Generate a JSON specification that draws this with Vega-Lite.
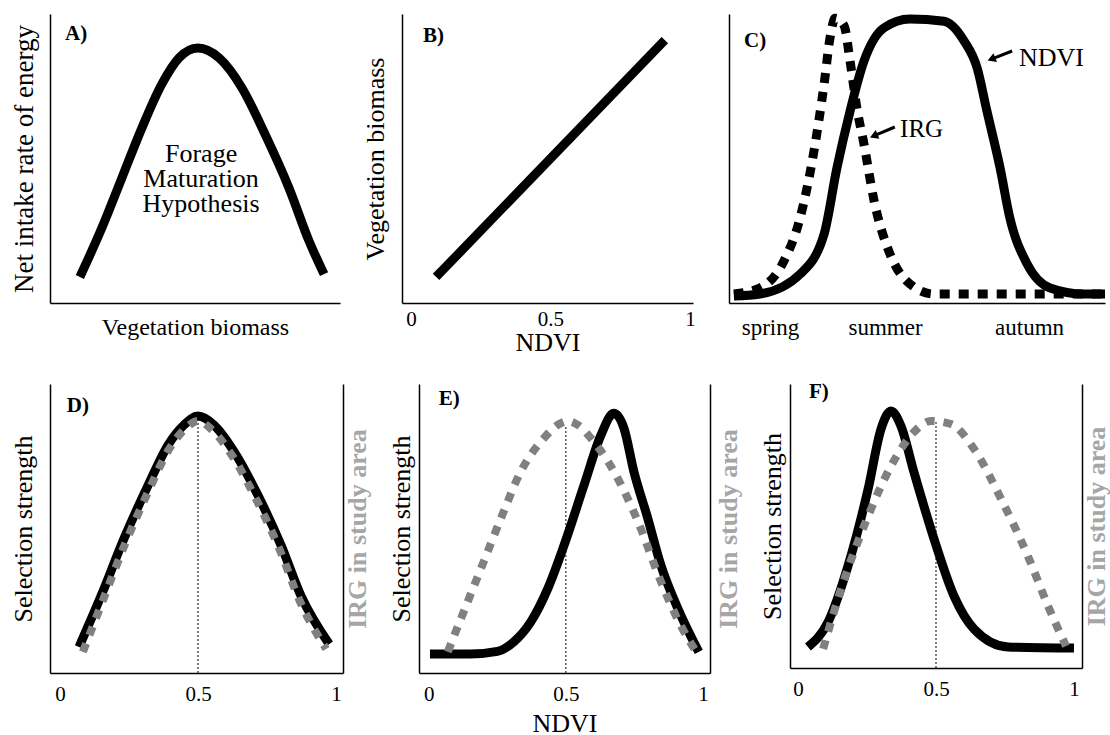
{
  "$schema": "https://vega.github.io/schema/vega-lite/v6.json",
  "padding": {"left": 9, "top": 0, "right": 0, "bottom": 0},
  "background": "white",
  "config": {
    "font": "Liberation Serif, Times New Roman, Times, DejaVu Serif, serif",
    "text": {"font": "Liberation Serif, Times New Roman, Times, DejaVu Serif, serif"},
    "view": {"stroke": null},
    "axis": {"grid": false, "ticks": false, "tickSize": 0, "domainColor": "#000", "domainWidth": 1.5, "labelFont": "Liberation Serif, Times New Roman, Times, DejaVu Serif, serif", "titleFont": "Liberation Serif, Times New Roman, Times, DejaVu Serif, serif", "labelColor": "#000", "titleColor": "#000", "titleFontWeight": "normal", "labelFontSize": 21, "titleFontSize": 26, "minExtent": 0, "labelFlush": false, "labelOverlap": false, "labelAngle": 0, "format": "~g"}
  },
  "datasets": {
    "A": [{"x":0.103,"y":0.09},{"x":0.179,"y":0.26},{"x":0.248,"y":0.433},{"x":0.317,"y":0.606},{"x":0.386,"y":0.758},{"x":0.445,"y":0.848},{"x":0.51,"y":0.882},{"x":0.583,"y":0.848},{"x":0.662,"y":0.744},{"x":0.741,"y":0.585},{"x":0.824,"y":0.398},{"x":0.893,"y":0.215},{"x":0.945,"y":0.10}],
    "B": [{"x":0.09,"y":0.09},{"x":0.91,"y":0.91}],
    "C_ndvi": [{"x":0.013,"y":0.024},{"x":0.082,"y":0.031},{"x":0.189,"y":0.1},{"x":0.253,"y":0.239},{"x":0.287,"y":0.467},{"x":0.322,"y":0.664},{"x":0.359,"y":0.837},{"x":0.412,"y":0.952},{"x":0.481,"y":0.983},{"x":0.572,"y":0.975},{"x":0.625,"y":0.907},{"x":0.66,"y":0.813},{"x":0.686,"y":0.664},{"x":0.721,"y":0.467},{"x":0.747,"y":0.294},{"x":0.793,"y":0.135},{"x":0.854,"y":0.052},{"x":0.944,"y":0.031},{"x":1.0,"y":0.031}],
    "C_irg": [{"x":0.013,"y":0.031},{"x":0.082,"y":0.052},{"x":0.146,"y":0.145},{"x":0.189,"y":0.294},{"x":0.226,"y":0.526},{"x":0.253,"y":0.758},{"x":0.269,"y":0.92},{"x":0.282,"y":0.985},{"x":0.306,"y":0.96},{"x":0.322,"y":0.837},{"x":0.34,"y":0.675},{"x":0.359,"y":0.55},{"x":0.386,"y":0.353},{"x":0.428,"y":0.17},{"x":0.481,"y":0.066},{"x":0.545,"y":0.031},{"x":1.0,"y":0.031}],
    "D_sel": [{"x":0.069,"y":0.09},{"x":0.149,"y":0.267},{"x":0.232,"y":0.465},{"x":0.319,"y":0.649},{"x":0.391,"y":0.788},{"x":0.449,"y":0.858},{"x":0.5,"y":0.889},{"x":0.558,"y":0.858},{"x":0.63,"y":0.767},{"x":0.717,"y":0.615},{"x":0.801,"y":0.441},{"x":0.873,"y":0.267},{"x":0.975,"y":0.1}],
    "D_irg": [{"x":0.083,"y":0.073},{"x":0.155,"y":0.25},{"x":0.236,"y":0.447},{"x":0.322,"y":0.632},{"x":0.393,"y":0.771},{"x":0.45,"y":0.842},{"x":0.5,"y":0.872},{"x":0.55,"y":0.842},{"x":0.625,"y":0.75},{"x":0.712,"y":0.598},{"x":0.797,"y":0.424},{"x":0.868,"y":0.25},{"x":0.964,"y":0.083}],
    "E_sel": [{"x":0.004,"y":0.066},{"x":0.15,"y":0.066},{"x":0.25,"y":0.075},{"x":0.31,"y":0.108},{"x":0.372,"y":0.177},{"x":0.434,"y":0.292},{"x":0.493,"y":0.441},{"x":0.566,"y":0.649},{"x":0.628,"y":0.823},{"x":0.675,"y":0.899},{"x":0.712,"y":0.847},{"x":0.748,"y":0.698},{"x":0.799,"y":0.535},{"x":0.847,"y":0.372},{"x":0.909,"y":0.222},{"x":0.985,"y":0.073}],
    "E_irg": [{"x":0.069,"y":0.073},{"x":0.117,"y":0.188},{"x":0.19,"y":0.361},{"x":0.263,"y":0.535},{"x":0.336,"y":0.698},{"x":0.42,"y":0.813},{"x":0.482,"y":0.865},{"x":0.507,"y":0.872},{"x":0.544,"y":0.858},{"x":0.591,"y":0.813},{"x":0.675,"y":0.698},{"x":0.763,"y":0.524},{"x":0.847,"y":0.316},{"x":0.92,"y":0.163},{"x":0.974,"y":0.076}],
    "F_sel": [{"x":0.036,"y":0.074},{"x":0.109,"y":0.162},{"x":0.181,"y":0.359},{"x":0.254,"y":0.63},{"x":0.301,"y":0.842},{"x":0.337,"y":0.905},{"x":0.373,"y":0.852},{"x":0.42,"y":0.69},{"x":0.493,"y":0.454},{"x":0.565,"y":0.254},{"x":0.638,"y":0.137},{"x":0.761,"y":0.074},{"x":1.0,"y":0.07}],
    "F_irg": [{"x":0.091,"y":0.067},{"x":0.156,"y":0.278},{"x":0.254,"y":0.535},{"x":0.337,"y":0.711},{"x":0.42,"y":0.831},{"x":0.482,"y":0.87},{"x":0.554,"y":0.859},{"x":0.638,"y":0.771},{"x":0.736,"y":0.595},{"x":0.833,"y":0.394},{"x":0.906,"y":0.218},{"x":0.971,"y":0.077}]
  },
  "vconcat": [
    {
      "hconcat": [
        {
          "width": 290, "height": 289,
          "layer": [
            {"data": {"name": "A"},
             "mark": {"type": "line", "color": "#000", "strokeWidth": 9, "interpolate": "monotone"},
             "encoding": {
               "x": {"field": "x", "type": "quantitative", "scale": {"domain": [0, 1], "nice": false, "zero": false}, "axis": {"labels": false, "title": "Vegetation biomass", "titleFontSize": 24, "titlePadding": 12}},
               "y": {"field": "y", "type": "quantitative", "scale": {"domain": [0, 1], "nice": false}, "axis": {"labels": false, "title": "Net intake rate of energy", "titleFontSize": 27, "titlePadding": 12}}
             }},
            {"data": {"values": [{}]},
             "mark": {"type": "text", "align": "left", "baseline": "middle", "fontWeight": "bold", "fontSize": 21},
             "encoding": {"x": {"datum": 0.052, "type": "quantitative"}, "y": {"datum": 0.93, "type": "quantitative"}, "text": {"value": "A)"}}},
            {"data": {"values": [{}]},
             "mark": {"type": "text", "align": "center", "baseline": "middle", "fontSize": 26, "lineHeight": 25},
             "encoding": {"x": {"datum": 0.521, "type": "quantitative"}, "y": {"datum": 0.516, "type": "quantitative"}, "text": {"value": ["Forage", "Maturation", "Hypothesis"]}}}
          ]
        },
        {
          "width": 291, "height": 289,
          "layer": [
            {"data": {"name": "B"},
             "mark": {"type": "line", "color": "#000", "strokeWidth": 9},
             "encoding": {
               "x": {"field": "x", "type": "quantitative", "scale": {"domain": [-0.032, 1.011], "nice": false, "zero": false}, "axis": {"values": [0, 0.5, 1], "labelPadding": 5, "title": "NDVI", "titlePadding": 0}},
               "y": {"field": "y", "type": "quantitative", "scale": {"domain": [0, 1], "nice": false}, "axis": {"labels": false, "title": "Vegetation biomass", "titlePadding": 14}}
             }},
            {"data": {"values": [{}]},
             "mark": {"type": "text", "align": "left", "baseline": "middle", "fontWeight": "bold", "fontSize": 21},
             "encoding": {"x": {"datum": 0.043, "type": "quantitative"}, "y": {"datum": 0.924, "type": "quantitative"}, "text": {"value": "B)"}}}
          ]
        },
        {
          "width": 376, "height": 289,
          "layer": [
            {"data": {"name": "C_ndvi"},
             "mark": {"type": "line", "color": "#000", "strokeWidth": 9, "interpolate": "monotone"},
             "encoding": {
               "x": {"field": "x", "type": "quantitative", "scale": {"domain": [0, 1], "nice": false, "zero": false}, "axis": {"values": [0.109, 0.415, 0.798], "labelFontSize": 23, "labelPadding": 13, "labelExpr": "datum.value < 0.2 ? 'spring' : datum.value < 0.6 ? 'summer' : 'autumn'", "title": null}},
               "y": {"field": "y", "type": "quantitative", "scale": {"domain": [0, 1], "nice": false}, "axis": {"labels": false, "title": " ", "titleFontSize": 11, "titlePadding": 0}}
             }},
            {"data": {"name": "C_irg"},
             "mark": {"type": "line", "color": "#000", "strokeWidth": 9, "strokeDash": [10, 9], "interpolate": "monotone"},
             "encoding": {"x": {"field": "x", "type": "quantitative"}, "y": {"field": "y", "type": "quantitative"}}},
            {"data": {"values": [{}]},
             "mark": {"type": "rule", "color": "#000", "strokeWidth": 3},
             "encoding": {"x": {"datum": 0.753, "type": "quantitative"}, "y": {"datum": 0.872, "type": "quantitative"}, "x2": {"datum": 0.698}, "y2": {"datum": 0.844}}},
            {"data": {"values": [{}]},
             "mark": {"type": "point", "shape": "triangle-up", "filled": true, "color": "#000", "opacity": 1, "size": 90, "angle": 248},
             "encoding": {"x": {"datum": 0.698, "type": "quantitative"}, "y": {"datum": 0.844, "type": "quantitative"}}},
            {"data": {"values": [{}]},
             "mark": {"type": "rule", "color": "#000", "strokeWidth": 3},
             "encoding": {"x": {"datum": 0.441, "type": "quantitative"}, "y": {"datum": 0.609, "type": "quantitative"}, "x2": {"datum": 0.385}, "y2": {"datum": 0.578}}},
            {"data": {"values": [{}]},
             "mark": {"type": "point", "shape": "triangle-up", "filled": true, "color": "#000", "opacity": 1, "size": 90, "angle": 247},
             "encoding": {"x": {"datum": 0.385, "type": "quantitative"}, "y": {"datum": 0.578, "type": "quantitative"}}},
            {"data": {"values": [{}]},
             "mark": {"type": "text", "align": "left", "baseline": "middle", "fontSize": 26},
             "encoding": {"x": {"datum": 0.771, "type": "quantitative"}, "y": {"datum": 0.848, "type": "quantitative"}, "text": {"value": "NDVI"}}},
            {"data": {"values": [{}]},
             "mark": {"type": "text", "align": "left", "baseline": "middle", "fontSize": 25},
             "encoding": {"x": {"datum": 0.455, "type": "quantitative"}, "y": {"datum": 0.602, "type": "quantitative"}, "text": {"value": "IRG"}}},
            {"data": {"values": [{}]},
             "mark": {"type": "text", "align": "left", "baseline": "middle", "fontWeight": "bold", "fontSize": 21},
             "encoding": {"x": {"datum": 0.04, "type": "quantitative"}, "y": {"datum": 0.907, "type": "quantitative"}, "text": {"value": "C)"}}}
          ]
        }
      ],
      "spacing": 19
    },
    {
      "hconcat": [
        {
          "width": 293, "height": 289,
          "layer": [
            {"data": {"values": [{}]},
             "mark": {"type": "rule", "color": "#000", "strokeWidth": 1, "strokeDash": [2, 2]},
             "encoding": {"x": {"datum": 0.5, "type": "quantitative", "scale": {"domain": [-0.036, 1.025], "nice": false, "zero": false}, "axis": {"values": [0, 0.5, 1], "labelPadding": 10, "title": null}}, "y": {"datum": 0, "type": "quantitative", "scale": {"domain": [0, 1], "nice": false}, "axis": null}, "y2": {"datum": 0.889}}},
            {"data": {"name": "D_sel"},
             "mark": {"type": "line", "color": "#000", "strokeWidth": 9, "interpolate": "monotone"},
             "encoding": {"x": {"field": "x", "type": "quantitative"}, "y": {"field": "y", "type": "quantitative", "scale": {"domain": [0, 1], "nice": false}, "axis": {"labels": false, "title": "Selection strength", "titlePadding": 14}}}},
            {"data": {"name": "D_irg"},
             "mark": {"type": "line", "color": "#808080", "strokeWidth": 8, "strokeDash": [9, 9], "interpolate": "monotone"},
             "encoding": {"x": {"field": "x", "type": "quantitative"}, "y": {"field": "y", "type": "quantitative", "scale": {"domain": [0, 1], "nice": false}, "axis": {"orient": "right", "labels": false, "title": "IRG in study area", "titleColor": "#a6a6a6", "titleFontWeight": "bold", "titleAngle": 270, "titleBaseline": "top", "titlePadding": 1}}}},
            {"data": {"values": [{}]},
             "mark": {"type": "text", "align": "left", "baseline": "middle", "fontWeight": "bold", "fontSize": 21},
             "encoding": {"x": {"datum": 0.025, "type": "quantitative"}, "y": {"datum": 0.924, "type": "quantitative", "scale": {"domain": [0, 1]}, "axis": null}, "text": {"value": "D)"}}}
          ],
          "resolve": {"scale": {"y": "independent"}}
        },
        {
          "width": 291, "height": 289,
          "layer": [
            {"data": {"values": [{}]},
             "mark": {"type": "rule", "color": "#000", "strokeWidth": 1, "strokeDash": [2, 2]},
             "encoding": {"x": {"datum": 0.5, "type": "quantitative", "scale": {"domain": [-0.036, 1.026], "nice": false, "zero": false}, "axis": {"values": [0, 0.5, 1], "labelPadding": 10, "title": "NDVI", "titlePadding": 6}}, "y": {"datum": 0, "type": "quantitative", "scale": {"domain": [0, 1], "nice": false}, "axis": null}, "y2": {"datum": 0.858}}},
            {"data": {"name": "E_sel"},
             "mark": {"type": "line", "color": "#000", "strokeWidth": 9, "interpolate": "monotone"},
             "encoding": {"x": {"field": "x", "type": "quantitative"}, "y": {"field": "y", "type": "quantitative", "scale": {"domain": [0, 1], "nice": false}, "axis": {"labels": false, "title": "Selection strength", "titlePadding": 5}}}},
            {"data": {"name": "E_irg"},
             "mark": {"type": "line", "color": "#808080", "strokeWidth": 8, "strokeDash": [9, 9], "interpolate": "monotone"},
             "encoding": {"x": {"field": "x", "type": "quantitative"}, "y": {"field": "y", "type": "quantitative", "scale": {"domain": [0, 1], "nice": false}, "axis": {"orient": "right", "labels": false, "title": "IRG in study area", "titleColor": "#a6a6a6", "titleFontWeight": "bold", "titleAngle": 270, "titleBaseline": "top", "titlePadding": 5}}}},
            {"data": {"values": [{}]},
             "mark": {"type": "text", "align": "left", "baseline": "middle", "fontWeight": "bold", "fontSize": 21},
             "encoding": {"x": {"datum": 0.036, "type": "quantitative"}, "y": {"datum": 0.948, "type": "quantitative", "scale": {"domain": [0, 1]}, "axis": null}, "text": {"value": "E)"}}}
          ],
          "resolve": {"scale": {"y": "independent"}}
        },
        {
          "width": 292, "height": 284,
          "layer": [
            {"data": {"values": [{}]},
             "mark": {"type": "rule", "color": "#000", "strokeWidth": 1, "strokeDash": [2, 2]},
             "encoding": {"x": {"datum": 0.5, "type": "quantitative", "scale": {"domain": [-0.029, 1.029], "nice": false, "zero": false}, "axis": {"values": [0, 0.5, 1], "labelPadding": 10, "title": null}}, "y": {"datum": 0, "type": "quantitative", "scale": {"domain": [0, 1], "nice": false}, "axis": null}, "y2": {"datum": 0.866}}},
            {"data": {"name": "F_sel"},
             "mark": {"type": "line", "color": "#000", "strokeWidth": 9, "interpolate": "monotone"},
             "encoding": {"x": {"field": "x", "type": "quantitative"}, "y": {"field": "y", "type": "quantitative", "scale": {"domain": [0, 1], "nice": false}, "axis": {"labels": false, "title": "Selection strength", "titlePadding": 5}}}},
            {"data": {"name": "F_irg"},
             "mark": {"type": "line", "color": "#808080", "strokeWidth": 8, "strokeDash": [9, 9], "interpolate": "monotone"},
             "encoding": {"x": {"field": "x", "type": "quantitative"}, "y": {"field": "y", "type": "quantitative", "scale": {"domain": [0, 1], "nice": false}, "axis": {"orient": "right", "labels": false, "title": "IRG in study area", "titleColor": "#a6a6a6", "titleFontWeight": "bold", "titleAngle": 270, "titleBaseline": "top", "titlePadding": 1}}}},
            {"data": {"values": [{}]},
             "mark": {"type": "text", "align": "left", "baseline": "middle", "fontWeight": "bold", "fontSize": 21},
             "encoding": {"x": {"datum": 0.04, "type": "quantitative"}, "y": {"datum": 0.972, "type": "quantitative", "scale": {"domain": [0, 1]}, "axis": null}, "text": {"value": "F)"}}}
          ],
          "resolve": {"scale": {"y": "independent"}}
        }
      ],
      "spacing": 18
    }
  ],
  "spacing": 25
}
